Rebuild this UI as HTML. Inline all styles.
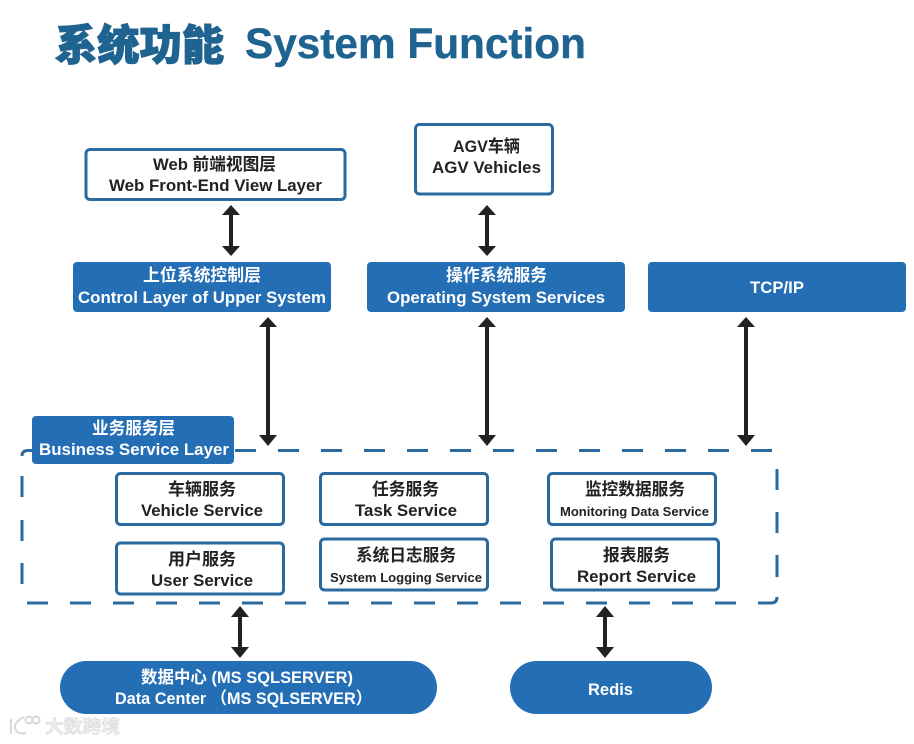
<!DOCTYPE html>
<html lang="zh">
<head>
<meta charset="utf-8">
<title>系统功能 System Function</title>
<style>
html,body{margin:0;padding:0;background:#fff;width:914px;height:744px;overflow:hidden}
svg{display:block}
text{font-family:"Liberation Sans","Noto Sans CJK SC",sans-serif;font-weight:700;font-size:17px;fill:#222}
.w{fill:#fff}
.box{fill:#fff;stroke:#2a6a9f;stroke-width:3}
.fill{fill:#236eb4}
.dash{stroke:#2a6a9f;stroke-width:3;fill:none}
.shaft{stroke:#222;stroke-width:4}
.head{fill:#222}
</style>
</head>
<body>
<svg width="914" height="744" viewBox="0 0 914 744" xmlns="http://www.w3.org/2000/svg">
<rect width="914" height="744" fill="#fff"/>

<!-- Title -->
<text x="55" y="60" textLength="169" lengthAdjust="spacingAndGlyphs" style="font-size:42px;font-weight:900;fill:#1f6391;stroke:#1f6391;stroke-width:1.200">系统功能</text>
<text x="245" y="58" textLength="341" lengthAdjust="spacingAndGlyphs" style="font-size:43px;fill:#1f6391;stroke:#1f6391;stroke-width:.4">System Function</text>

<!-- Top boxes -->
<rect class="box" x="86" y="149.500" width="259" height="50" rx="4"/>
<rect class="box" x="415.500" y="124.500" width="137" height="69.500" rx="4"/>
<rect class="fill" x="73" y="262" width="258" height="50" rx="4"/>
<rect class="fill" x="367" y="262" width="258" height="50" rx="4"/>
<rect class="fill" x="648" y="262" width="258" height="50" rx="4"/>

<text x="153" y="170" textLength="123" lengthAdjust="spacingAndGlyphs">Web 前端视图层</text>
<text x="109" y="191" textLength="213" lengthAdjust="spacingAndGlyphs">Web Front-End View Layer</text>
<text x="453" y="152" textLength="67" lengthAdjust="spacingAndGlyphs">AGV车辆</text>
<text x="432" y="173" textLength="109" lengthAdjust="spacingAndGlyphs">AGV Vehicles</text>
<text class="w" x="143" y="281" textLength="118" lengthAdjust="spacingAndGlyphs">上位系统控制层</text>
<text class="w" x="78" y="303" textLength="248" lengthAdjust="spacingAndGlyphs">Control Layer of Upper System</text>
<text class="w" x="446" y="281" textLength="101" lengthAdjust="spacingAndGlyphs">操作系统服务</text>
<text class="w" x="387" y="303" textLength="218" lengthAdjust="spacingAndGlyphs">Operating System Services</text>
<text class="w" x="750" y="293" textLength="54" lengthAdjust="spacingAndGlyphs">TCP/IP</text>

<!-- Dashed container -->
<g class="dash">
<path d="M22 456 Q22 450.500 28 450.500 L34 450.500"/>
<path d="M235 450.500H256M278 450.500H299M321 450.500H342M364 450.500H385M407 450.500H428M450 450.500H471M493 450.500H514M536 450.500H557M579 450.500H600M622 450.500H643M665 450.500H686M708 450.500H729M751 450.500H772"/>
<path d="M22 476V497M22 520V541M22 563V584"/>
<path d="M777 469V490M777 512V533M777 555V577"/>
<path d="M27 603H48M70 603H91M113 603H134M156 603H177M199 603H220M242 603H263M285 603H306M328 603H349M371 603H392M414 603H435M457 603H478M500 603H521M543 603H564M586 603H607M629 603H650M672 603H693M715 603H736"/>
<path d="M758 603H771 Q777 603 777 597"/>
</g>

<rect class="fill" x="32" y="416" width="202" height="48" rx="4"/>
<text class="w" x="92" y="434" textLength="83" lengthAdjust="spacingAndGlyphs">业务服务层</text>
<text class="w" x="39" y="455" textLength="190" lengthAdjust="spacingAndGlyphs">Business Service Layer</text>

<!-- Service boxes -->
<rect class="box" x="116.500" y="473.500" width="167" height="51" rx="4"/>
<rect class="box" x="320.500" y="473.500" width="167" height="51" rx="4"/>
<rect class="box" x="548.500" y="473.500" width="167" height="51" rx="4"/>
<rect class="box" x="116.500" y="543" width="167" height="51" rx="4"/>
<rect class="box" x="320.500" y="539" width="167" height="51" rx="4"/>
<rect class="box" x="551.500" y="539" width="167" height="51" rx="4"/>

<text x="168" y="495" textLength="68" lengthAdjust="spacingAndGlyphs">车辆服务</text>
<text x="141" y="516" textLength="122" lengthAdjust="spacingAndGlyphs">Vehicle Service</text>
<text x="372" y="495" textLength="67" lengthAdjust="spacingAndGlyphs">任务服务</text>
<text x="355" y="516" textLength="102" lengthAdjust="spacingAndGlyphs">Task Service</text>
<text x="585" y="495" textLength="100" lengthAdjust="spacingAndGlyphs">监控数据服务</text>
<text x="560" y="516" textLength="149" lengthAdjust="spacingAndGlyphs" style="font-size:13px">Monitoring Data Service</text>
<text x="168" y="565" textLength="68" lengthAdjust="spacingAndGlyphs">用户服务</text>
<text x="151" y="586" textLength="102" lengthAdjust="spacingAndGlyphs">User Service</text>
<text x="356" y="561" textLength="100" lengthAdjust="spacingAndGlyphs">系统日志服务</text>
<text x="330" y="582" textLength="152" lengthAdjust="spacingAndGlyphs" style="font-size:13px">System Logging Service</text>
<text x="603" y="561" textLength="67" lengthAdjust="spacingAndGlyphs">报表服务</text>
<text x="577" y="582" textLength="119" lengthAdjust="spacingAndGlyphs">Report Service</text>

<!-- Pills -->
<rect class="fill" x="60" y="661" width="377" height="53" rx="26.500"/>
<rect class="fill" x="510" y="661" width="202" height="53" rx="26.500"/>
<text class="w" x="141" y="683" textLength="212" lengthAdjust="spacingAndGlyphs">数据中心 (MS SQLSERVER)</text>
<text class="w" x="115" y="704" textLength="257" lengthAdjust="spacingAndGlyphs">Data Center （MS SQLSERVER）</text>
<text class="w" x="588" y="695" textLength="45" lengthAdjust="spacingAndGlyphs">Redis</text>

<!-- Arrows -->
<line class="shaft" x1="231" y1="212" x2="231" y2="249"/>
<path class="head" d="M231 205l9 10h-18zM231 256l9-10h-18z"/>
<line class="shaft" x1="487" y1="212" x2="487" y2="249"/>
<path class="head" d="M487 205l9 10h-18zM487 256l9-10h-18z"/>
<line class="shaft" x1="268" y1="324" x2="268" y2="439"/>
<path class="head" d="M268 317l9 10h-18zM268 446l9-11h-18z"/>
<line class="shaft" x1="487" y1="324" x2="487" y2="439"/>
<path class="head" d="M487 317l9 10h-18zM487 446l9-11h-18z"/>
<line class="shaft" x1="746" y1="324" x2="746" y2="439"/>
<path class="head" d="M746 317l9 10h-18zM746 446l9-11h-18z"/>
<line class="shaft" x1="240" y1="613" x2="240" y2="651"/>
<path class="head" d="M240 606l9 11h-18zM240 658l9-11h-18z"/>
<line class="shaft" x1="605" y1="613" x2="605" y2="651"/>
<path class="head" d="M605 606l9 11h-18zM605 658l9-11h-18z"/>

<!-- Watermark -->
<g fill="none" stroke="#d8d8d8" stroke-width="2">
<path d="M11 719V734M24 717 Q14 722 15 728 Q17 735 26 733"/>
<circle cx="29" cy="720" r="3.500"/>
<circle cx="36" cy="720" r="3.500"/>
</g>
<text x="45" y="733" textLength="75" lengthAdjust="spacingAndGlyphs" style="font-size:18px;fill:#eeeeee;stroke:#d4d4d4;stroke-width:.5">大数跨境</text>
</svg>
</body>
</html>
